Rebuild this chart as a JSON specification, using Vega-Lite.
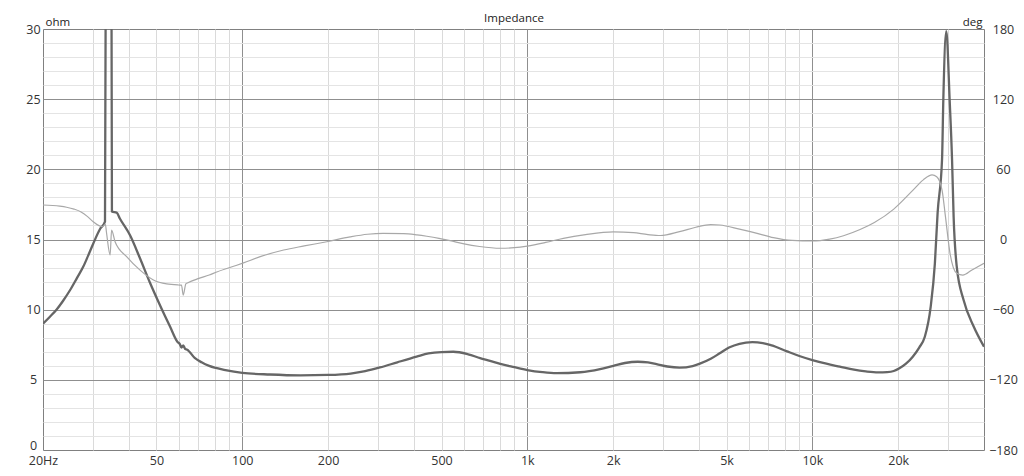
{
  "$schema": "https://vega.github.io/schema/vega-lite/v6.json",
  "width": 941,
  "height": 421,
  "autosize": {"type": "none"},
  "padding": {"left": 43, "top": 29, "right": 40, "bottom": 26},
  "background": "white",
  "config": {
    "view": {"stroke": "#808080", "strokeWidth": 1},
    "axis": {"labelFont": "Open Sans", "titleFont": "Open Sans", "labelColor": "#333333", "titleColor": "#222222", "titleFontWeight": "normal", "labelFontSize": 12.5, "titleFontSize": 11.5}
  },
  "datasets": {
    "imp": [
      {"f": 20, "z": 9.0}, {"f": 21.15, "z": 9.5}, {"f": 22.3, "z": 10.0}, {"f": 23.5, "z": 10.62}, {"f": 24.9, "z": 11.4}, {"f": 26.3, "z": 12.25},
      {"f": 27.7, "z": 13.07}, {"f": 28.8, "z": 13.85}, {"f": 30.0, "z": 14.7}, {"f": 31.7, "z": 15.75}, {"f": 33.0, "z": 16.27}, {"f": 33.3, "z": 45},
      {"f": 34.0, "z": 120}, {"f": 34.7, "z": 45}, {"f": 34.9, "z": 17.0}, {"f": 36.3, "z": 16.9}, {"f": 37.2, "z": 16.5},
      {"f": 40.4, "z": 15.3}, {"f": 43.7, "z": 13.7}, {"f": 47.5, "z": 11.9}, {"f": 51.5, "z": 10.3}, {"f": 55.8, "z": 8.8},
      {"f": 59.3, "z": 7.7}, {"f": 60.4, "z": 7.55}, {"f": 61.2, "z": 7.3}, {"f": 62.1, "z": 7.45}, {"f": 63.1, "z": 7.2},
      {"f": 64.1, "z": 7.15}, {"f": 68.1, "z": 6.56}, {"f": 72, "z": 6.25}, {"f": 76.6, "z": 5.99}, {"f": 87.3, "z": 5.7},
      {"f": 100, "z": 5.5}, {"f": 125, "z": 5.38}, {"f": 160, "z": 5.32}, {"f": 200, "z": 5.35}, {"f": 240, "z": 5.45},
      {"f": 270, "z": 5.62}, {"f": 304, "z": 5.88}, {"f": 350, "z": 6.25}, {"f": 409, "z": 6.65}, {"f": 450, "z": 6.88},
      {"f": 500, "z": 6.98}, {"f": 550, "z": 7.0}, {"f": 620, "z": 6.82}, {"f": 683, "z": 6.55}, {"f": 740, "z": 6.35},
      {"f": 804, "z": 6.13}, {"f": 900, "z": 5.9}, {"f": 1000, "z": 5.7}, {"f": 1130, "z": 5.55}, {"f": 1266, "z": 5.48},
      {"f": 1534, "z": 5.54}, {"f": 1800, "z": 5.76}, {"f": 2004, "z": 6.0}, {"f": 2200, "z": 6.2}, {"f": 2440, "z": 6.29},
      {"f": 2650, "z": 6.24}, {"f": 2840, "z": 6.12}, {"f": 3100, "z": 5.95}, {"f": 3420, "z": 5.87}, {"f": 3800, "z": 5.98},
      {"f": 4030, "z": 6.15}, {"f": 4400, "z": 6.5}, {"f": 4730, "z": 6.89}, {"f": 5100, "z": 7.3}, {"f": 5550, "z": 7.57},
      {"f": 6160, "z": 7.68}, {"f": 6700, "z": 7.62}, {"f": 7200, "z": 7.45}, {"f": 8100, "z": 7.05}, {"f": 9000, "z": 6.7},
      {"f": 10000, "z": 6.41}, {"f": 11200, "z": 6.15}, {"f": 12480, "z": 5.94}, {"f": 14000, "z": 5.72}, {"f": 15400, "z": 5.6},
      {"f": 17000, "z": 5.53}, {"f": 18300, "z": 5.55}, {"f": 19300, "z": 5.63}, {"f": 20200, "z": 5.82}, {"f": 21300, "z": 6.15},
      {"f": 22500, "z": 6.65}, {"f": 23700, "z": 7.3}, {"f": 24800, "z": 8.07}, {"f": 26000, "z": 10.2}, {"f": 26900, "z": 13.3},
      {"f": 27500, "z": 16.9}, {"f": 28500, "z": 20.7}, {"f": 28800, "z": 25}, {"f": 29500, "z": 29.85}, {"f": 30300, "z": 25},
      {"f": 30900, "z": 20.7}, {"f": 31300, "z": 16.6}, {"f": 32100, "z": 13.06}, {"f": 33900, "z": 10.7}, {"f": 36800, "z": 8.8},
      {"f": 40000, "z": 7.36}
    ],
    "ph": [
      {"f": 20, "deg": 29.5}, {"f": 22.9, "deg": 28.5}, {"f": 24.2, "deg": 27.6}, {"f": 25.7, "deg": 26}, {"f": 27.2, "deg": 23.6},
      {"f": 28.6, "deg": 19.8}, {"f": 30.0, "deg": 15.2}, {"f": 32.3, "deg": 10.9}, {"f": 33.1, "deg": 13}, {"f": 33.4, "deg": 6},
      {"f": 34.4, "deg": -13.2}, {"f": 34.8, "deg": 8.1}, {"f": 35.8, "deg": -1.9}, {"f": 39.3, "deg": -14.7}, {"f": 43.7, "deg": -26},
      {"f": 48.8, "deg": -34.6}, {"f": 54.3, "deg": -38}, {"f": 59.7, "deg": -38.9}, {"f": 61.2, "deg": -39}, {"f": 62.1, "deg": -47.5},
      {"f": 63.4, "deg": -38}, {"f": 64.5, "deg": -37}, {"f": 70, "deg": -33.5}, {"f": 76.6, "deg": -30.4}, {"f": 81.4, "deg": -27.8},
      {"f": 95.7, "deg": -22}, {"f": 101, "deg": -20}, {"f": 115.6, "deg": -14.7}, {"f": 139.7, "deg": -9.0}, {"f": 165, "deg": -5.5},
      {"f": 198, "deg": -1.9}, {"f": 239, "deg": 2.2}, {"f": 275, "deg": 4.5}, {"f": 312, "deg": 5.3}, {"f": 368, "deg": 5.1},
      {"f": 410, "deg": 4.0}, {"f": 444, "deg": 2.8}, {"f": 490, "deg": 1.0}, {"f": 536, "deg": -1.0}, {"f": 600, "deg": -3.8},
      {"f": 680, "deg": -6.0}, {"f": 804, "deg": -7.5}, {"f": 900, "deg": -7.0}, {"f": 1000, "deg": -5.6}, {"f": 1160, "deg": -2.5},
      {"f": 1338, "deg": 1.0}, {"f": 1600, "deg": 4.2}, {"f": 2004, "deg": 6.6}, {"f": 2358, "deg": 5.8}, {"f": 2650, "deg": 4.2},
      {"f": 2930, "deg": 3.4}, {"f": 3420, "deg": 6.7}, {"f": 3900, "deg": 10.5}, {"f": 4400, "deg": 12.8}, {"f": 4730, "deg": 12.4},
      {"f": 5550, "deg": 8.9}, {"f": 6400, "deg": 5.3}, {"f": 7300, "deg": 1.6}, {"f": 8500, "deg": -0.8}, {"f": 10000, "deg": -1.3},
      {"f": 11500, "deg": 0.3}, {"f": 12860, "deg": 3.2}, {"f": 14700, "deg": 8.5}, {"f": 16500, "deg": 14.5}, {"f": 19300, "deg": 26},
      {"f": 22500, "deg": 42}, {"f": 24500, "deg": 51}, {"f": 26300, "deg": 55.2}, {"f": 27300, "deg": 53.7}, {"f": 28500, "deg": 42.3},
      {"f": 29300, "deg": 19.5}, {"f": 30400, "deg": -11.8}, {"f": 32100, "deg": -28.9}, {"f": 33700, "deg": -30.4}, {"f": 36300, "deg": -26},
      {"f": 40000, "deg": -20.3}
    ]
  },
  "layer": [
    {
      "data": {"name": "imp"},
      "mark": {"type": "line", "strokeOpacity": 0, "clip": true},
      "encoding": {
        "x": {"field": "f", "type": "quantitative", "scale": {"type": "log", "domain": [20, 40000], "nice": false},
          "axis": {"orient": "top", "values": [30, 40, 50, 60, 70, 80, 90, 200, 300, 400, 500, 600, 700, 800, 900, 2000, 3000, 4000, 5000, 6000, 7000, 8000, 9000, 20000, 30000],
            "grid": true, "gridColor": "#dadada", "labels": false, "ticks": false, "domain": false,
            "title": "Impedance", "titleY": -8, "titleBaseline": "alphabetic"}},
        "y": {"field": "z", "type": "quantitative", "scale": {"domain": [0, 30], "nice": false, "zero": false},
          "axis": {"orient": "left", "values": [1, 2, 3, 4, 6, 7, 8, 9, 11, 12, 13, 14, 16, 17, 18, 19, 21, 22, 23, 24, 26, 27, 28, 29],
            "grid": true, "gridColor": "#e4e4e4", "labels": false, "ticks": false, "domain": false, "title": null}}
      }
    },
    {
      "data": {"name": "imp"},
      "mark": {"type": "line", "strokeOpacity": 0, "clip": true},
      "encoding": {
        "x": {"field": "f", "type": "quantitative", "scale": {"type": "log", "domain": [20, 40000], "nice": false},
          "axis": {"orient": "bottom", "values": [100, 1000, 10000], "grid": true, "gridColor": "#8f8f8f", "labels": false, "ticks": false, "domain": false, "title": null}},
        "y": {"field": "z", "type": "quantitative", "scale": {"domain": [0, 30], "nice": false, "zero": false},
          "axis": {"orient": "left", "values": [5, 10, 15, 20, 25], "grid": true, "gridColor": "#8f8f8f", "labels": false, "ticks": false, "domain": false, "title": null}}
      }
    },
    {
      "data": {"name": "imp"},
      "mark": {"type": "line", "color": "#666666", "strokeWidth": 2.3, "interpolate": "monotone", "clip": true},
      "encoding": {
        "x": {"field": "f", "type": "quantitative", "scale": {"type": "log", "domain": [20, 40000], "nice": false},
          "axis": {"orient": "bottom", "values": [20, 50, 100, 200, 500, 1000, 2000, 5000, 10000, 20000],
            "labelExpr": "datum.value == 20 ? '20Hz' : (datum.value >= 1000 ? (datum.value / 1000) + 'k' : datum.value + '')",
            "grid": false, "ticks": false, "domain": false, "labelPadding": 4, "labelFlush": false, "title": null}},
        "y": {"field": "z", "type": "quantitative", "scale": {"domain": [0, 30], "nice": false, "zero": false},
          "axis": {"orient": "left", "values": [0, 5, 10, 15, 20, 25, 30], "grid": false, "ticks": false, "domain": false,
            "labelAlign": "center", "labelPadding": 10, "labelFlush": false,
            "labelOffset": {"condition": {"test": "datum.value == 0", "value": -5}, "value": 0},
            "title": "ohm", "titleAngle": 0, "titleX": 2, "titleY": -4, "titleAlign": "left", "titleBaseline": "alphabetic"}}
      }
    },
    {
      "data": {"name": "ph"},
      "mark": {"type": "line", "color": "#a8a8a8", "strokeWidth": 1.2, "interpolate": "monotone", "clip": true},
      "encoding": {
        "x": {"field": "f", "type": "quantitative", "scale": {"type": "log", "domain": [20, 40000], "nice": false}, "axis": null},
        "y": {"field": "deg", "type": "quantitative", "scale": {"domain": [-180, 180], "nice": false, "zero": false},
          "axis": {"orient": "right", "values": [-180, -120, -60, 0, 60, 120, 180], "grid": false, "ticks": false, "domain": false,
            "labelAlign": "center", "labelPadding": 19, "labelFlush": false,
            "title": "deg", "titleAngle": 0, "titleX": -2, "titleY": -4, "titleAlign": "right", "titleBaseline": "alphabetic"}}
      }
    }
  ],
  "resolve": {"scale": {"y": "independent"}, "axis": {"x": "independent", "y": "independent"}}
}
